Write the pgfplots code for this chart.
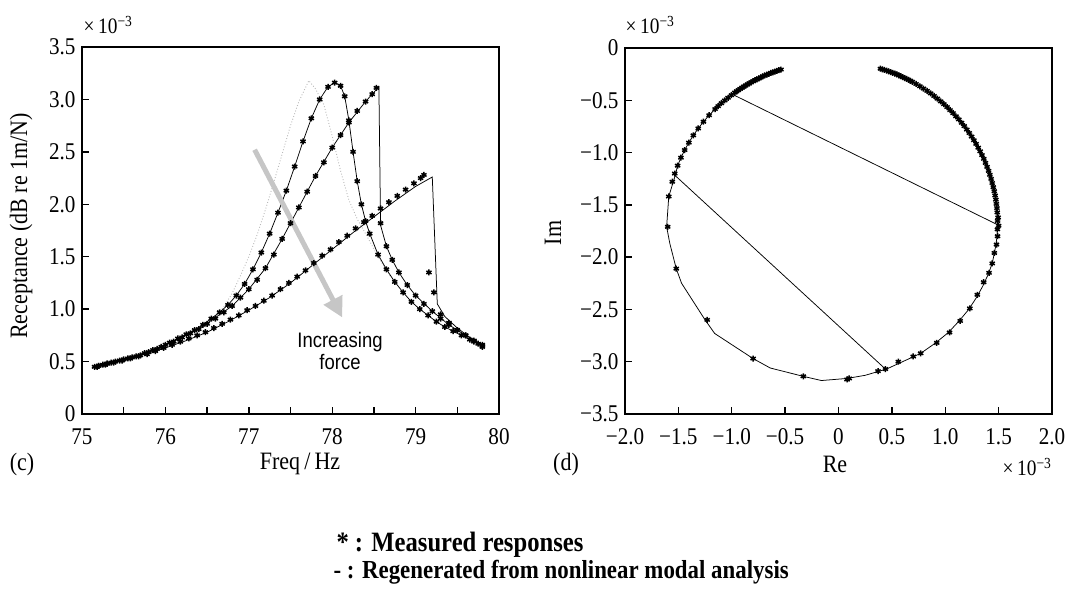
\documentclass[border=0pt]{standalone}
\usepackage{fontspec}
\setmainfont[FakeStretch=0.88]{Liberation Serif}
\newfontfamily\sansf[FakeStretch=0.88]{Liberation Sans}
\usepackage{pgfplots}
\usepackage{pgfplotstable}
\pgfplotsset{compat=1.18}
\usetikzlibrary{arrows.meta}

% receptance, measured (low / middle / high force)
\pgfplotstableread{
f v
75.15 0.45
75.20 0.46
75.25 0.47
75.30 0.48
75.35 0.49
75.45 0.51
75.55 0.53
75.65 0.55
75.75 0.58
75.85 0.61
75.95 0.64
76.05 0.68
76.15 0.72
76.25 0.76
76.35 0.80
76.45 0.85
76.55 0.91
76.65 0.97
76.75 1.04
76.85 1.13
76.95 1.24
77.05 1.38
77.15 1.54
77.25 1.72
77.35 1.92
77.45 2.13
77.55 2.36
77.65 2.60
77.75 2.82
77.85 3.00
77.95 3.12
78.03 3.16
78.10 3.13
78.15 3.03
78.20 2.80
78.25 2.50
78.30 2.22
78.35 2.00
78.40 1.84
78.45 1.72
78.55 1.52
78.65 1.38
78.75 1.26
78.85 1.16
78.95 1.07
79.05 1.00
79.15 0.94
79.25 0.88
79.35 0.83
79.45 0.79
79.55 0.75
79.65 0.71
79.75 0.67
79.80 0.64
}\measA

\pgfplotstableread{
f v
75.20 0.46
75.30 0.48
75.40 0.50
75.50 0.52
75.60 0.54
75.70 0.56
75.80 0.59
75.90 0.62
76.00 0.66
76.10 0.69
76.20 0.73
76.30 0.77
76.40 0.81
76.50 0.86
76.60 0.91
76.70 0.97
76.80 1.03
76.90 1.11
77.00 1.19
77.10 1.28
77.20 1.39
77.30 1.52
77.40 1.67
77.50 1.82
77.60 1.97
77.70 2.12
77.80 2.27
77.90 2.40
78.00 2.54
78.10 2.66
78.20 2.78
78.30 2.89
78.40 2.98
78.48 3.05
78.53 3.11
78.58 1.82
78.65 1.60
78.72 1.47
78.80 1.35
78.90 1.23
79.00 1.13
79.10 1.05
79.20 0.98
79.30 0.91
79.40 0.85
79.50 0.80
79.60 0.75
79.70 0.70
79.80 0.66
}\measB

\pgfplotstableread{
f v
75.18 0.45
75.28 0.47
75.38 0.49
75.48 0.51
75.58 0.53
75.68 0.55
75.78 0.57
75.88 0.60
75.98 0.63
76.08 0.66
76.18 0.69
76.28 0.72
76.38 0.75
76.48 0.78
76.58 0.82
76.68 0.86
76.78 0.90
76.88 0.94
76.98 0.99
77.08 1.03
77.18 1.08
77.28 1.13
77.38 1.19
77.48 1.25
77.58 1.31
77.68 1.37
77.78 1.44
77.88 1.51
77.98 1.57
78.08 1.64
78.18 1.70
78.28 1.77
78.38 1.83
78.48 1.89
78.58 1.96
78.68 2.02
78.78 2.08
78.88 2.14
78.98 2.20
79.06 2.25
79.10 2.28
79.16 1.35
79.22 1.16
79.30 0.95
79.40 0.87
79.50 0.80
79.60 0.75
79.70 0.69
79.80 0.65
}\measC

% Nyquist plot, measured
\pgfplotstableread{
re im
0.393 -0.198
0.412 -0.204
0.430 -0.210
0.450 -0.216
0.470 -0.223
0.489 -0.230
0.508 -0.237
0.527 -0.245
0.546 -0.253
0.565 -0.261
0.583 -0.270
0.601 -0.278
0.619 -0.287
0.638 -0.296
0.656 -0.305
0.674 -0.314
0.692 -0.324
0.727 -0.344
0.762 -0.366
0.796 -0.388
0.830 -0.410
0.863 -0.434
0.895 -0.459
0.926 -0.484
0.957 -0.510
0.987 -0.537
1.017 -0.565
1.045 -0.594
1.073 -0.623
1.100 -0.653
1.127 -0.683
1.153 -0.715
1.178 -0.747
1.202 -0.780
1.225 -0.813
1.247 -0.847
1.268 -0.882
1.289 -0.917
1.309 -0.953
1.327 -0.988
1.344 -1.024
1.361 -1.060
1.377 -1.099
1.392 -1.137
1.406 -1.175
1.418 -1.213
1.430 -1.252
1.440 -1.291
1.450 -1.331
1.459 -1.370
1.467 -1.410
1.474 -1.450
1.479 -1.491
1.484 -1.531
1.487 -1.572
1.495 -1.620
1.490 -1.654
1.500 -1.700
1.489 -1.734
1.490 -1.800
1.480 -1.880
1.460 -1.960
1.440 -2.060
1.410 -2.150
1.360 -2.240
1.300 -2.360
1.230 -2.490
1.140 -2.610
1.040 -2.720
0.920 -2.820
0.770 -2.920
0.700 -2.950
0.560 -3.000
0.440 -3.070
0.370 -3.090
0.100 -3.160
0.080 -3.170
-0.330 -3.140
-0.800 -2.970
-1.230 -2.600
-1.520 -2.110
-1.600 -1.710
-1.590 -1.420
-1.557 -1.279
-1.534 -1.201
-1.507 -1.125
-1.476 -1.049
-1.441 -0.976
-1.402 -0.905
-1.360 -0.835
-1.314 -0.769
-1.265 -0.705
-1.212 -0.643
-1.156 -0.584
-1.127 -0.556
-1.097 -0.528
-1.066 -0.502
-1.035 -0.476
-1.003 -0.451
-0.971 -0.426
-0.955 -0.414
-0.938 -0.403
-0.921 -0.391
-0.904 -0.380
-0.887 -0.369
-0.870 -0.359
-0.853 -0.348
-0.835 -0.338
-0.818 -0.328
-0.800 -0.318
-0.782 -0.308
-0.764 -0.299
-0.746 -0.290
-0.728 -0.281
-0.710 -0.272
-0.691 -0.263
-0.672 -0.255
-0.653 -0.247
-0.634 -0.239
-0.615 -0.232
-0.596 -0.225
-0.577 -0.219
-0.558 -0.212
-0.539 -0.206
}\nyqmeas

% Nyquist plot, regenerated
\pgfplotstableread{
re im
0.393 -0.198
0.470 -0.223
0.546 -0.253
0.619 -0.287
0.692 -0.324
0.762 -0.366
0.830 -0.410
0.895 -0.459
0.957 -0.510
1.017 -0.565
1.073 -0.623
1.127 -0.683
1.178 -0.747
1.225 -0.813
1.268 -0.882
1.309 -0.953
1.344 -1.024
1.377 -1.099
1.406 -1.175
1.430 -1.252
1.450 -1.331
1.467 -1.410
1.479 -1.491
1.487 -1.572
1.490 -1.654
1.489 -1.734
1.485 -1.800
1.475 -1.880
1.460 -1.960
1.440 -2.060
1.400 -2.170
1.350 -2.280
1.290 -2.390
1.220 -2.500
1.130 -2.610
1.030 -2.720
0.910 -2.820
0.770 -2.920
0.600 -3.000
0.450 -3.070
0.250 -3.130
0.080 -3.160
-0.160 -3.180
-0.330 -3.140
-0.640 -3.060
-0.800 -2.970
-1.160 -2.730
-1.250 -2.600
-1.470 -2.250
-1.520 -2.110
-1.580 -1.870
-1.610 -1.710
-1.590 -1.420
-1.530 -1.220
-1.507 -1.125
-1.476 -1.049
-1.441 -0.976
-1.402 -0.905
-1.360 -0.835
-1.314 -0.769
-1.265 -0.705
-1.212 -0.643
-1.156 -0.584
-1.097 -0.528
-1.035 -0.476
-0.971 -0.426
-0.904 -0.380
-0.835 -0.338
-0.764 -0.299
-0.691 -0.263
-0.615 -0.232
-0.539 -0.206
}\nyqregen

\pgfplotsset{
  panel/.style={
    scale only axis,
    axis line style={line width=1.7pt},
    tick align=inside,
    tick pos=left,
    major tick length=7pt,
    minor tick length=7pt,
    every tick/.style={black, line width=1.4pt},
    tick label style={font=\fontsize{24}{24}\selectfont},
    xticklabel style={yshift=-11pt},
    yticklabel style={xshift=-3pt},
  },
  meas/.style={only marks, mark=asterisk, mark size=3pt,
    mark options={line width=1.5pt, black}},
  regen/.style={black, line width=0.75pt, no marks},
}

\begin{document}
\begin{tikzpicture}[x=1pt,y=1pt]
\useasboundingbox (0,0) rectangle (1065,591);

\begin{axis}[panel, at={(82pt,177pt)}, anchor=south west,
  width=417pt, height=367pt,
  xmin=75, xmax=80, ymin=0, ymax=3.5,
  xtick={75,76,77,78,79,80}, xticklabels={75,76,77,78,79,80},
  minor xtick={75.5,76.5,77.5,78.5,79.5},
  ytick={0,0.5,1,1.5,2,2.5,3,3.5},
  yticklabels={0,0.5,1.0,1.5,2.0,2.5,3.0,3.5}]
  % dotted reference curve
  \addplot[gray!55, line width=0.9pt, dotted] coordinates {
    (76.50,0.87) (76.60,0.93) (76.70,1.02) (76.80,1.15) (76.90,1.32)
    (77.00,1.50) (77.10,1.71) (77.20,1.95) (77.30,2.21) (77.40,2.48)
    (77.50,2.75) (77.60,2.98) (77.72,3.18) (77.80,3.10) (77.90,2.95)
    (78.00,2.65) (78.10,2.32) (78.20,2.04) (78.30,1.86) (78.40,1.72)
    (78.55,1.50) (78.70,1.31)};
  % regenerated
  \addplot[regen] table[x=f, y=v] {\measA};
  \addplot[regen] coordinates {
    (75.20,0.46) (75.60,0.54) (76.00,0.66) (76.40,0.81) (76.80,1.03)
    (77.00,1.19) (77.20,1.39) (77.40,1.67) (77.60,1.97) (77.80,2.27)
    (78.00,2.54) (78.20,2.78) (78.40,2.98) (78.56,3.12) (78.58,1.80)
    (78.65,1.60) (78.72,1.47) (78.80,1.35) (78.90,1.23) (79.00,1.13)
    (79.20,0.98) (79.40,0.85) (79.60,0.75) (79.80,0.66)};
  \addplot[regen] coordinates {
    (75.15,0.45) (75.50,0.51) (76.00,0.63) (76.25,0.70) (76.50,0.78)
    (76.75,0.88) (77.00,0.99) (77.25,1.11) (77.50,1.25) (77.75,1.41)
    (78.00,1.57) (78.25,1.73) (78.50,1.88) (78.75,2.03) (79.00,2.17)
    (79.20,2.26) (79.26,1.05) (79.35,0.93) (79.50,0.82) (79.65,0.73)
    (79.80,0.65)};
  % measured
  \addplot[meas] table[x=f, y=v] {\measA};
  \addplot[meas] table[x=f, y=v] {\measB};
  \addplot[meas] table[x=f, y=v] {\measC};
  \draw[line width=5pt, gray!45, -{Triangle[width=20pt,length=20pt]}]
    (axis cs:77.07,2.52) -- (axis cs:78.12,0.92);
\end{axis}

\begin{axis}[panel, at={(625pt,177pt)}, anchor=south west,
  width=427pt, height=366pt,
  xmin=-2, xmax=2, ymin=-3.5, ymax=0,
  xtick={-2,-1.5,-1,-0.5,0,0.5,1,1.5,2},
  xticklabels={−2.0,−1.5,−1.0,−0.5,0,0.5,1.0,1.5,2.0},
  ytick={-3.5,-3,-2.5,-2,-1.5,-1,-0.5,0},
  yticklabels={−3.5,−3.0,−2.5,−2.0,−1.5,−1.0,−0.5,0}]
  \addplot[regen] table[x=re, y=im] {\nyqregen};
  \addplot[regen] coordinates {(1.490,-1.690) (-0.980,-0.450)};
  \addplot[regen] coordinates {(0.450,-3.080) (-1.530,-1.220)};
  \addplot[meas] table[x=re, y=im] {\nyqmeas};
\end{axis}

\node[font=\fontsize{22}{22}\selectfont] at (108,566) {×\,10\textsuperscript{−3}};
\node[font=\fontsize{22}{22}\selectfont] at (650,566) {×\,10\textsuperscript{−3}};
\node[font=\fontsize{22}{22}\selectfont] at (1027,124) {×\,10\textsuperscript{−3}};

\node[rotate=90, font=\fontsize{25}{25}\selectfont] at (21,365) {Receptance (dB re 1m/N)};
\node[rotate=90, font=\fontsize{25}{25}\selectfont] at (553,358) {Im};
\node[font=\fontsize{25}{25}\selectfont] at (22,127) {(c)};
\node[font=\fontsize{25}{25}\selectfont] at (300,127) {Freq\,/\,Hz};
\node[font=\fontsize{25}{25}\selectfont] at (566,127) {(d)};
\node[font=\fontsize{25}{25}\selectfont] at (835,127) {Re};

\node[font=\sansf\fontsize{21}{22}\selectfont, align=center] at (340,240)
  {Increasing\\force};

\node[anchor=west, font=\bfseries\fontsize{28}{28}\selectfont] at (333,46)
  {* : Measured responses};
\node[anchor=west, font=\bfseries\fontsize{26}{26}\selectfont] at (330,19)
  {- : Regenerated from nonlinear modal analysis};
\end{tikzpicture}
\end{document}
